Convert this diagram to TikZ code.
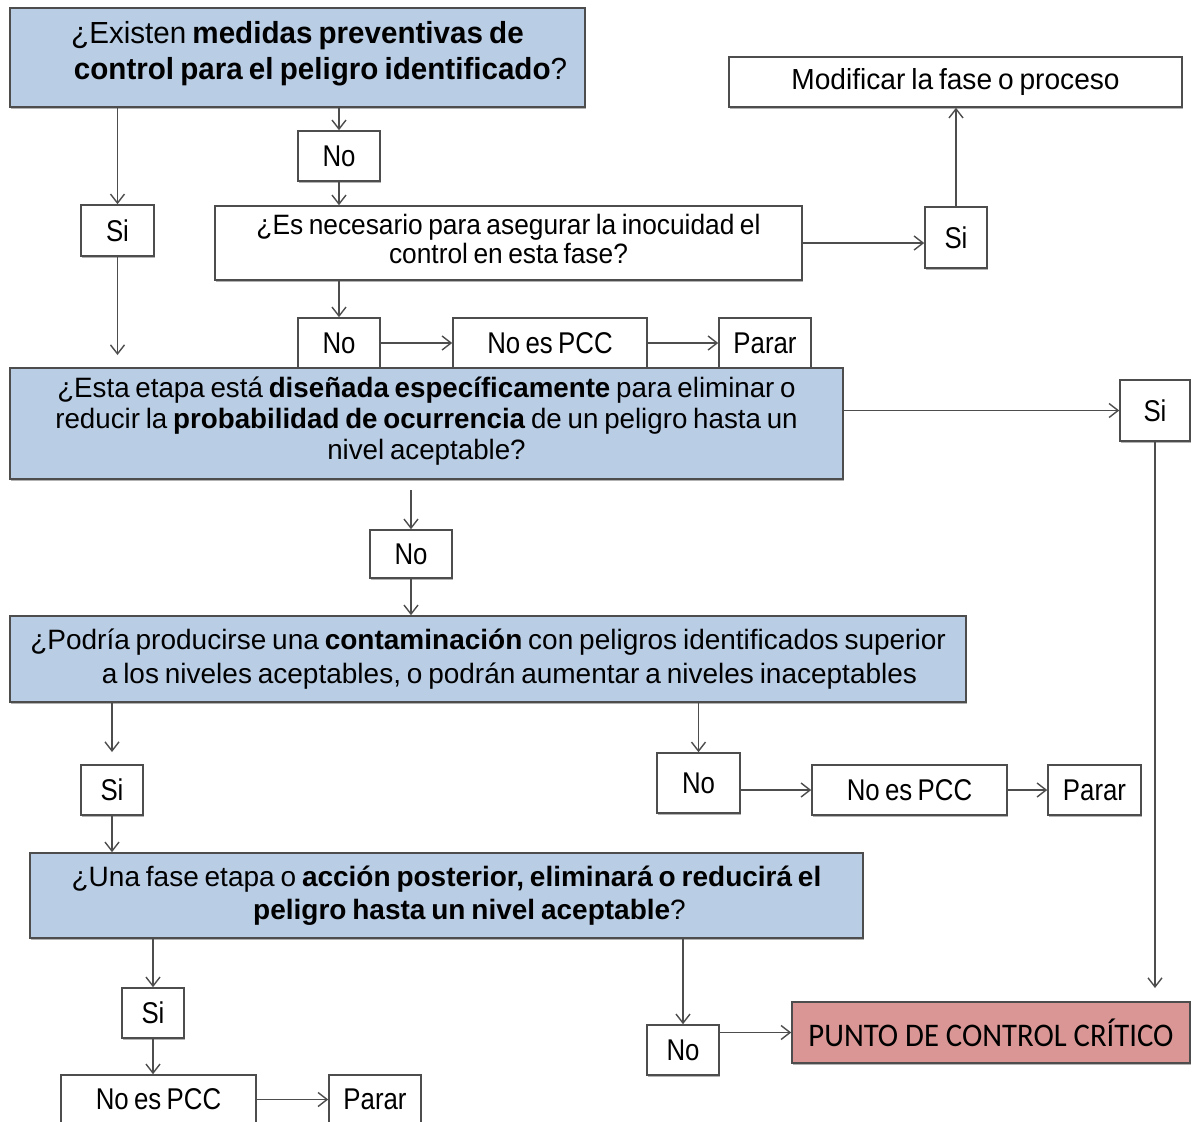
\documentclass[tikz,border=0pt]{standalone}
\usepackage{fontspec}
\setmainfont[FakeStretch=0.86,WordSpace=0.75]{Liberation Sans}
\newfontfamily\fqa[FakeStretch=0.97,WordSpace=0.75]{Liberation Sans}
\newfontfamily\fqb[FakeStretch=0.94,WordSpace=0.75]{Liberation Sans}
\newfontfamily\fqc[FakeStretch=0.99,WordSpace=0.75]{Liberation Sans}
\newfontfamily\fqd[FakeStretch=1.0,WordSpace=0.75]{Liberation Sans}
\newfontfamily\calib[FakeStretch=0.93]{Carlito}
\usetikzlibrary{arrows.meta,shadows}
\definecolor{bluebox}{HTML}{B9CDE5}
\definecolor{redbox}{HTML}{D99694}
\definecolor{edge}{HTML}{4D4D4D}
\newcommand{\lowpad}[1]{\rule[-#1]{0pt}{#1}}
\tikzset{
  box/.style={draw=edge,line width=1.6pt,fill=white,inner sep=0pt,align=center,
    font=\fontsize{30}{34}\selectfont,
    drop shadow={shadow xshift=1.2pt,shadow yshift=-1.8pt,fill=black,opacity=0.3}},
  qbox/.style={box,fill=bluebox},
  arr/.style={draw=edge,line width=1.4pt,-{Straight Barb[length=9pt,width=14pt]}},
}
\begin{document}
\begin{tikzpicture}[x=1pt,y=-1pt]
\useasboundingbox (0,0) rectangle (1192,1122);
\clip (0,0) rectangle (1192,1122);
\fill[white] (0,0) rectangle (1192,1122);

% row 1
\node[qbox,minimum width=575pt,minimum height=99pt,font=\fqa\fontsize{30.5}{36}\selectfont] (q1) at (297.5,57.5)
  {¿Existen \textbf{medidas preventivas de}\\\hspace*{46pt}\textbf{control para el peligro identificado}?\lowpad{15pt}};
\node[box,minimum width=82pt,minimum height=50pt] (no1) at (339,156) {No};
\node[box,minimum width=73pt,minimum height=51pt] (si1) at (117.5,230.5) {Si};
\node[box,minimum width=587pt,minimum height=74pt,font=\fqb\fontsize{28}{29}\selectfont] (q2) at (508.5,243)
  {¿Es necesario para asegurar la inocuidad el\\control en esta fase?\lowpad{8pt}};
\node[box,minimum width=62pt,minimum height=61pt] (si2) at (956,237.5) {Si};
\node[box,minimum width=453pt,minimum height=50pt,font=\fqa\fontsize{29}{32}\selectfont] (mod) at (955.5,82) {Modificar la fase o proceso};

% row 2
\node[box,minimum width=82pt,minimum height=50pt] (no2) at (339,343) {No};
\node[box,minimum width=194pt,minimum height=50pt] (pcc1) at (550,343) {No es PCC};
\node[box,minimum width=92pt,minimum height=50pt] (parar1) at (765,343) {Parar};
\node[qbox,minimum width=833pt,minimum height=111pt,font=\fqc\fontsize{28}{31}\selectfont] (q3) at (426.5,423.5)
  {¿Esta etapa está \textbf{diseñada específicamente} para eliminar o\\reducir la \textbf{probabilidad de ocurrencia} de un peligro hasta un\\nivel aceptable?\lowpad{10pt}};
\node[box,minimum width=70pt,minimum height=61pt] (si3) at (1155,410.5) {Si};

% row 3
\node[box,minimum width=82pt,minimum height=48pt] (no3) at (411,554) {No};
\node[qbox,minimum width=956pt,minimum height=86pt,font=\fqd\fontsize{28}{34}\selectfont] (q4) at (488,659)
  {¿Podría producirse una \textbf{contaminación} con peligros identificados superior\\\hspace*{43pt}a los niveles aceptables, o podrán aumentar a niveles inaceptables};
\node[box,minimum width=62pt,minimum height=50pt] (si4) at (112,790) {Si};
\node[box,minimum width=83pt,minimum height=60pt] (no4) at (698.5,783) {No};
\node[box,minimum width=195pt,minimum height=50pt] (pcc2) at (909.5,790) {No es PCC};
\node[box,minimum width=93pt,minimum height=50pt] (parar2) at (1094.5,790) {Parar};

% row 4
\node[qbox,minimum width=833pt,minimum height=85pt,font=\fqd\fontsize{28}{33}\selectfont] (q5) at (446.5,895.5)
  {¿Una fase etapa o \textbf{acción posterior, eliminará o reducirá el}\\\hspace*{46pt}\textbf{peligro hasta un nivel aceptable}?};
\node[box,minimum width=62pt,minimum height=50pt] (si5) at (153,1013) {Si};
\node[box,minimum width=72pt,minimum height=50pt] (no5) at (683,1050) {No};
\node[box,fill=redbox,minimum width=398pt,minimum height=61pt,font=\calib\fontsize{33}{36}\selectfont] (pcc) at (991,1032.5) {PUNTO DE CONTROL CRÍTICO};
\node[box,minimum width=195pt,minimum height=49pt] (pcc3) at (158.5,1099.5) {No es PCC};
\node[box,minimum width=92pt,minimum height=49pt] (parar3) at (375,1099.5) {Parar};

% free ends
\coordinate (e1) at (117.5,355);
\coordinate (e2) at (1155,988);
\coordinate (s3) at (411,490);
\coordinate (e4) at (112,752);

% connectors
\draw[arr] (q1.south -| si1.north) -- (si1.north);
\draw[arr] (q1.south -| no1.north) -- (no1.north);
\draw[arr] (no1.south) -- (q2.north -| no1.south);
\draw[arr] (si1.south) -- (e1);
\draw[arr] (q2.east) -- (q2.east -| si2.west);
\draw[arr] (si2.north) -- (mod.south -| si2.north);
\draw[arr] (q2.south -| no2.north) -- (no2.north);
\draw[arr] (no2.east) -- (pcc1.west);
\draw[arr] (pcc1.east) -- (parar1.west);
\draw[arr] (q3.east |- si3.west) -- (si3.west);
\draw[arr] (si3.south) -- (e2);
\draw[arr] (s3) -- (no3.north);
\draw[arr] (no3.south) -- (q4.north -| no3.south);
\draw[arr] (q4.south -| si4.north) -- (e4);
\draw[arr] (q4.south -| no4.north) -- (no4.north);
\draw[arr] (si4.south) -- (q5.north -| si4.south);
\draw[arr] (no4.east |- pcc2.west) -- (pcc2.west);
\draw[arr] (pcc2.east) -- (parar2.west);
\draw[arr] (q5.south -| si5.north) -- (si5.north);
\draw[arr] (q5.south -| no5.north) -- (no5.north);
\draw[arr] (si5.south) -- (pcc3.north -| si5.south);
\draw[arr] (no5.east |- pcc.west) -- (pcc.west);
\draw[arr] (pcc3.east) -- (parar3.west);
\end{tikzpicture}
\end{document}
